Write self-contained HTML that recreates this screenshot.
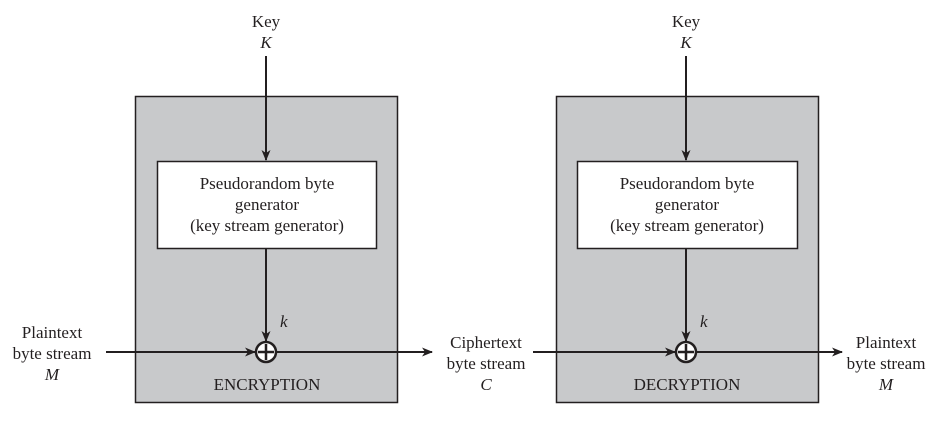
<!DOCTYPE html>
<html><head><meta charset="utf-8"><style>
html,body{margin:0;padding:0;background:#fff;}
svg{display:block;}
text{font-family:"Liberation Serif",serif;font-size:17px;fill:#231f20;}
.i{font-style:italic;}
</style></head><body>
<svg width="944" height="423" viewBox="0 0 944 423" xmlns="http://www.w3.org/2000/svg">
<defs><marker id="a" markerWidth="11" markerHeight="9" refX="10" refY="4.5" orient="auto" markerUnits="userSpaceOnUse"><path d="M0,0 L11,4.5 L0,9 L3,4.5 Z" fill="#231f20"/></marker></defs>
<g stroke="#231f20" stroke-width="1.5">
<rect x="135.5" y="96.5" width="262" height="306" fill="#c8c9cb"/>
<rect x="556.5" y="96.5" width="262" height="306" fill="#c8c9cb"/>
<rect x="157.5" y="161.5" width="219" height="87" fill="#fff"/>
<rect x="577.5" y="161.5" width="220" height="87" fill="#fff"/>
</g>
<g stroke="#231f20" stroke-width="2" fill="none">
<line x1="266" y1="56" x2="266" y2="160" marker-end="url(#a)"/>
<line x1="686" y1="56" x2="686" y2="160" marker-end="url(#a)"/>
<line x1="266" y1="249" x2="266" y2="341" marker-end="url(#a)"/>
<line x1="686" y1="249" x2="686" y2="341" marker-end="url(#a)"/>
<line x1="106" y1="352" x2="255" y2="352" marker-end="url(#a)"/>
<line x1="277" y1="352" x2="432" y2="352" marker-end="url(#a)"/>
<line x1="533" y1="352" x2="675" y2="352" marker-end="url(#a)"/>
<line x1="697" y1="352" x2="842" y2="352" marker-end="url(#a)"/>
<circle cx="266" cy="352" r="10" fill="#fff" stroke-width="2.5"/>
<circle cx="686" cy="352" r="10" fill="#fff" stroke-width="2.5"/>
<path d="M266,344 V360 M258,352 H274 M686,344 V360 M678,352 H694" stroke-width="2.5"/>
</g>
<g text-anchor="middle">
<text x="266" y="27">Key</text><text x="266" y="48" class="i">K</text>
<text x="686" y="27">Key</text><text x="686" y="48" class="i">K</text>
<text x="267" y="189">Pseudorandom byte</text><text x="267" y="210">generator</text><text x="267" y="231">(key stream generator)</text>
<text x="687" y="189">Pseudorandom byte</text><text x="687" y="210">generator</text><text x="687" y="231">(key stream generator)</text>
<text x="267" y="390" font-size="16">ENCRYPTION</text>
<text x="687" y="390" font-size="16">DECRYPTION</text>
<text x="52" y="338">Plaintext</text><text x="52" y="359">byte stream</text><text x="52" y="380" class="i">M</text>
<text x="486" y="348">Ciphertext</text><text x="486" y="369">byte stream</text><text x="486" y="390" class="i">C</text>
<text x="886" y="348">Plaintext</text><text x="886" y="369">byte stream</text><text x="886" y="390" class="i">M</text>
</g>
<text x="280" y="327" class="i">k</text>
<text x="700" y="327" class="i">k</text>
</svg>
</body></html>
